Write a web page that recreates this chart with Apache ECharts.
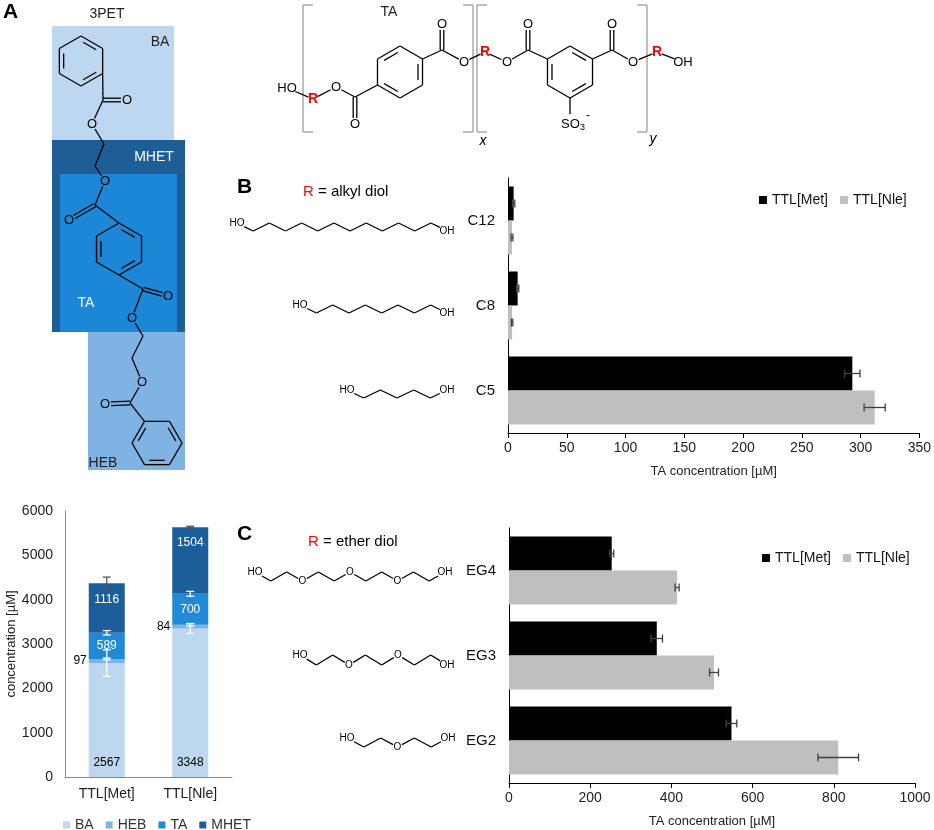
<!DOCTYPE html>
<html>
<head>
<meta charset="utf-8">
<title>TA release from 3PET and polyesters</title>
<script src="https://cdn.jsdelivr.net/npm/echarts@6/dist/echarts.min.js"></script>
<style>html,body{margin:0;padding:0;background:#fff;}</style>
</head>
<body>
<div id="chart" style="width:934px;height:830px;"></div>
<script>
// ---- data ----
var enzymes = ['TTL[Met]', 'TTL[Nle]'];
var products = ['BA', 'HEB', 'TA', 'MHET'];
var baVals = [2567, 3348];
var hebVals = [97, 84];
var taVals = [589, 700];
var mhetVals = [1116, 1504];
var baErr = [300, 110];
var hebErr = [20, 30];
var taErr = [50, 55];
var mhetErr = [140, 20];

var alkylDiols = ['C5', 'C8', 'C12'];
var alkylMet = [293, 8.2, 4.8];
var alkylMetErr = [6.5, 1, 1];
var alkylNle = [312, 3.5, 3.4];
var alkylNleErr = [9, 0.6, 0.8];

var etherDiols = ['EG2', 'EG3', 'EG4'];
var etherMet = [548, 364, 253];
var etherMetErr = [13, 14, 5];
var etherNle = [811, 505, 414];
var etherNleErr = [50, 11, 5];

var FONT = '"Liberation Sans", Arial, sans-serif';
var prodColors = ['#bdd7ee', '#7db2e2', '#1f8ad6', '#1b5e99'];

// ---- drawing helpers for the structures ----
var gfx = [];
function rect(x, y, w, h, c) {
    gfx.push({type: 'rect', z: 1, shape: {x: x, y: y, width: w, height: h}, style: {fill: c}});
}
function line(x1, y1, x2, y2, c, w) {
    gfx.push({type: 'line', z: 10, shape: {x1: x1, y1: y1, x2: x2, y2: y2},
        style: {stroke: c || '#000', lineWidth: w || 1.3}});
}
function txt(s, x, y, size, color, opt) {
    opt = opt || {};
    var al = opt.align || 'center';
    gfx.push({type: 'text', z: 12, x: x, y: y, style: {
        text: s, fill: color || '#000',
        font: (opt.bold ? 'bold ' : '') + (opt.italic ? 'italic ' : '') + size + 'px ' + FONT,
        textAlign: al, align: al, textVerticalAlign: 'middle', verticalAlign: 'middle'
    }});
}
// node = [x, y, label, shrink]
function bond(a, b, dbl) {
    var dx = b[0] - a[0], dy = b[1] - a[1], L = Math.sqrt(dx * dx + dy * dy);
    var ux = dx / L, uy = dy / L;
    var s1 = a[2] ? (a[3] || 6) : 0, s2 = b[2] ? (b[3] || 6) : 0;
    var x1 = a[0] + ux * s1, y1 = a[1] + uy * s1, x2 = b[0] - ux * s2, y2 = b[1] - uy * s2;
    if (!dbl) {
        line(x1, y1, x2, y2);
    } else {
        var nx = -uy * 1.8, ny = ux * 1.8;
        line(x1 + nx, y1 + ny, x2 + nx, y2 + ny);
        line(x1 - nx, y1 - ny, x2 - nx, y2 - ny);
    }
}
function atom(n, size, color) {
    txt(n[2], n[0], n[1], size || 13, color || '#000');
}
function hex(cx, cy, r, pointy, inner) {
    var v = [];
    for (var k = 0; k < 6; k++) {
        var a = ((pointy ? -90 : -120) + 60 * k) * Math.PI / 180;
        v.push([cx + r * Math.cos(a), cy + r * Math.sin(a)]);
    }
    for (k = 0; k < 6; k++) {
        var p = v[k], q = v[(k + 1) % 6];
        line(p[0], p[1], q[0], q[1]);
        if (inner.indexOf(k) >= 0) {
            var p1 = [p[0] + (cx - p[0]) * 0.2, p[1] + (cy - p[1]) * 0.2];
            var q1 = [q[0] + (cx - q[0]) * 0.2, q[1] + (cy - q[1]) * 0.2];
            var ex = (q1[0] - p1[0]) * 0.12, ey = (q1[1] - p1[1]) * 0.12;
            line(p1[0] + ex, p1[1] + ey, q1[0] - ex, q1[1] - ey);
        }
    }
    return v;
}
function chain(pts, size) {
    for (var i = 0; i < pts.length - 1; i++) bond(pts[i], pts[i + 1]);
    pts.forEach(function (p) { if (p[2]) txt(p[2], p[0], p[1], size, '#000'); });
}
function zigzag(x0, x1, yHi, yLo, n, labels, shrinkEnd) {
    var pts = [], step = (x1 - x0) / (n - 1);
    for (var i = 0; i < n; i++) {
        var lb = labels[i] || null;
        var sh = (i === 0 || i === n - 1) ? shrinkEnd : 5;
        pts.push([x0 + step * i, i % 2 === 0 ? yHi : yLo, lb, sh]);
    }
    return pts;
}

// ---- panel A : 3PET ----
rect(52, 26, 122, 114, '#bcd7ef');
rect(52, 140, 133, 192, '#1d5e96');
rect(60, 174, 117, 158, '#1b87d6');
rect(88, 332, 97, 138, '#7fb3e4');
txt('A', 3, 12, 21, '#000', {bold: true, align: 'left'});
txt('3PET', 107, 14, 14, '#222');
txt('BA', 160, 42, 14, '#222');
txt('MHET', 154, 157, 14, '#fff');
txt('TA', 86, 303, 14, '#fff');
txt('HEB', 103, 463, 14, '#222');

var r1 = hex(81, 61, 25, true, [0, 2, 4]);
var c1 = [103, 100], o1 = [127, 100, 'O'], oe1 = [92, 124, 'O'], c2 = [104, 144], c3 = [95, 166];
var oe2 = [105, 181, 'O'], c4 = [95, 205], o4 = [69, 220, 'O'];
var r2 = hex(119, 249, 26, true, [0, 2, 4]);
var c5 = [143, 289], o5 = [168, 296, 'O'], oe3 = [132, 318, 'O'], c6 = [143, 336], c7 = [132, 358];
var oe4 = [142, 382, 'O'], c8 = [130, 403], o8 = [105, 404, 'O'];
var r3 = hex(157, 443, 25, false, [1, 3, 5]);
bond(r1[2], c1); bond(c1, o1, true); bond(c1, oe1); bond(oe1, c2); bond(c2, c3); bond(c3, oe2);
bond(oe2, c4); bond(c4, o4, true); bond(c4, r2[0]); bond(r2[3], c5); bond(c5, o5, true);
bond(c5, oe3); bond(oe3, c6); bond(c6, c7); bond(c7, oe4); bond(oe4, c8); bond(c8, o8, true);
bond(c8, r3[0]);
[o1, oe1, oe2, o4, o5, oe3, oe4, o8].forEach(function (n) { atom(n, 13); });

// ---- polyester repeat unit ----
var gray = '#aaaaaa';
function bracket(x, y1, y2, dir) {
    line(x, y1, x, y2, gray, 1.5);
    line(x, y1, x + dir * 10, y1, gray, 1.5);
    line(x, y2, x + dir * 10, y2, gray, 1.5);
}
bracket(303, 5, 132, 1);
bracket(473, 5, 132, -1);
bracket(477, 5, 132, 1);
bracket(647, 5, 132, -1);
txt('x', 483, 141, 14, '#000', {italic: true});
txt('y', 653, 139, 14, '#000', {italic: true});
txt('TA', 389, 12, 14, '#222');

var ho = [287, 88, 'HO', 9], rA = [313, 99, 'R', 5], oA = [336, 87, 'O'], cA = [355, 97], oA2 = [355, 124, 'O'];
var ra = hex(400, 72, 26, true, [1, 3, 5]);
var cB = [442, 50], oB2 = [442, 24, 'O'], oB = [464, 62, 'O'], rB = [485, 52, 'R', 5], oC = [507, 62, 'O'];
var cC = [528, 50], oC2 = [528, 24, 'O'];
var rb = hex(570, 72, 26, true, [0, 2, 4]);
var cD = [612, 50], oD2 = [612, 24, 'O'], oD = [633, 62, 'O'], rC = [657, 52, 'R', 5], oh = [683, 62, 'OH', 9];
var so3 = [570, 121, 'S', 7];
bond(ho, rA); bond(rA, oA); bond(oA, cA); bond(cA, oA2, true); bond(cA, ra[4]);
bond(ra[1], cB); bond(cB, oB2, true); bond(cB, oB); bond(oB, rB); bond(rB, oC); bond(oC, cC);
bond(cC, oC2, true); bond(cC, rb[5]); bond(rb[1], cD); bond(cD, oD2, true); bond(cD, oD);
bond(oD, rC); bond(rC, oh); bond(rb[3], so3);
[ho, oA, oA2, oB2, oB, oC, oC2, oD2, oD, oh].forEach(function (n) { atom(n, 13); });
[rA, rB, rC].forEach(function (n) { txt('R', n[0], n[1], 14, '#ff0000', {bold: true}); });
txt('SO', 561, 124, 13, '#000', {align: 'left'});
txt('3', 580, 128, 9, '#000', {align: 'left'});
txt('-', 586, 116, 12, '#000', {align: 'left'});

// ---- panel B / C headings and diol structures ----
txt('B', 237, 187, 21, '#000', {bold: true, align: 'left'});
txt('R', 303, 192, 15, '#ff0000', {align: 'left'});
txt('= alkyl diol', 318, 192, 15, '#000', {align: 'left'});
txt('C', 237, 534, 21, '#000', {bold: true, align: 'left'});
txt('R', 308, 542, 15, '#ff0000', {align: 'left'});
txt('= ether diol', 323, 542, 15, '#000', {align: 'left'});

chain(zigzag(237, 447, 223, 231, 14, {0: 'HO', 13: 'OH'}, 8), 10);
chain(zigzag(300, 447, 305, 313, 10, {0: 'HO', 9: 'OH'}, 8), 10);
chain(zigzag(347, 447, 390, 398, 7, {0: 'HO', 6: 'OH'}, 8), 10);
chain(zigzag(255, 445, 572, 581, 13, {0: 'HO', 3: 'O', 6: 'O', 9: 'O', 12: 'OH'}, 8), 10);
chain(zigzag(300, 447, 655, 665, 10, {0: 'HO', 3: 'O', 6: 'O', 9: 'OH'}, 8), 10);
chain(zigzag(347, 448, 738, 747, 7, {0: 'HO', 3: 'O', 6: 'OH'}, 8), 10);

// ---- error bars ----
var stackErr = [];
enzymes.forEach(function (e, i) {
    var t1 = baVals[i], t2 = t1 + hebVals[i], t3 = t2 + taVals[i], t4 = t3 + mhetVals[i];
    stackErr.push([i, t1, baErr[i], 0], [i, t2, hebErr[i], 0], [i, t3, taErr[i], 0], [i, t4, mhetErr[i], 1]);
});
function errGroup(pts, col) {
    return {type: 'group', children: pts.map(function (s) {
        return {type: 'line', shape: {x1: s[0], y1: s[1], x2: s[2], y2: s[3]}, style: {stroke: col, lineWidth: 1.3}};
    })};
}
function stackErrItem(params, api) {
    var c = api.coord([api.value(0), api.value(1)]);
    var e = api.size([0, api.value(2)])[1];
    var col = api.value(3) ? '#555' : '#fff';
    var hw = 4;
    return errGroup([[c[0], c[1] - e, c[0], c[1] + e], [c[0] - hw, c[1] - e, c[0] + hw, c[1] - e],
        [c[0] - hw, c[1] + e, c[0] + hw, c[1] + e]], col);
}
function hErrItem(params, api) {
    var c = api.coord([api.value(0), api.value(1)]);
    var band = api.size([0, 1])[1];
    var w = band * 0.4;
    var y = c[1] + (api.value(3) === 0 ? -w / 2 : w / 2);
    var e = api.size([api.value(2), 0])[0];
    var hh = 4;
    return errGroup([[c[0] - e, y, c[0] + e, y], [c[0] - e, y - hh, c[0] - e, y + hh],
        [c[0] + e, y - hh, c[0] + e, y + hh]], '#404040');
}
function hErrData(met, metErr, nle, nleErr) {
    var d = [];
    met.forEach(function (v, i) {
        d.push([v, i, metErr[i], 0]);
        d.push([nle[i], i, nleErr[i], 1]);
    });
    return d;
}

// ---- axes ----
function plain(v) { return String(v); }
function valAxisH(grid, max, interval) {
    return {
        type: 'value', gridIndex: grid, min: 0, max: max, interval: interval,
        axisLine: {show: true, lineStyle: {color: '#000'}},
        axisTick: {show: true, length: 5, lineStyle: {color: '#000'}},
        axisLabel: {fontSize: 14, color: '#222', margin: 8, fontFamily: FONT, formatter: plain},
        splitLine: {show: false},
        name: 'TA concentration [µM]', nameLocation: 'middle', nameGap: 32,
        nameTextStyle: {fontSize: 13, color: '#222', fontFamily: FONT}
    };
}
function catAxisV(grid, cats) {
    return {
        type: 'category', gridIndex: grid, data: cats,
        axisLine: {show: true, lineStyle: {color: '#000'}},
        axisTick: {show: false},
        axisLabel: {fontSize: 15, color: '#111', margin: 13, fontFamily: FONT}
    };
}
function segLabel(pos, col, dist) {
    return {show: true, position: pos, color: col, fontSize: 12, distance: dist, fontFamily: FONT};
}

var option = {
    animation: false,
    textStyle: {fontFamily: FONT},
    graphic: {elements: gfx},
    grid: [
        {left: 65, top: 511, width: 167, height: 266},
        {left: 508, top: 178, width: 412, height: 255},
        {left: 509, top: 528, width: 406, height: 255}
    ],
    legend: [
        {data: products, left: 58, top: 813, icon: 'rect', itemWidth: 7, itemHeight: 7, itemGap: 12,
            textStyle: {fontSize: 14, color: '#333'}},
        {data: ['TTL[Met]', 'TTL[Nle]'], left: 754, top: 188, icon: 'rect', itemWidth: 8, itemHeight: 8,
            itemGap: 12, textStyle: {fontSize: 14, color: '#111'}},
        {data: ['TTL[Met]', 'TTL[Nle]'], left: 757, top: 546, icon: 'rect', itemWidth: 8, itemHeight: 8,
            itemGap: 12, textStyle: {fontSize: 14, color: '#111'}}
    ],
    xAxis: [
        {type: 'category', gridIndex: 0, data: enzymes,
            axisLine: {show: true, lineStyle: {color: '#888'}}, axisTick: {show: false},
            axisLabel: {fontSize: 14, color: '#222', margin: 10}},
        valAxisH(1, 350, 50),
        valAxisH(2, 1000, 200)
    ],
    yAxis: [
        {type: 'value', gridIndex: 0, min: 0, max: 6000, interval: 1000,
            axisLine: {show: true, lineStyle: {color: '#888'}}, axisTick: {show: false},
            axisLabel: {fontSize: 14, color: '#222', margin: 12, formatter: plain}, splitLine: {show: false},
            name: 'concentration [µM]', nameLocation: 'middle', nameGap: 45,
            nameTextStyle: {fontSize: 13, color: '#222'}},
        catAxisV(1, alkylDiols),
        catAxisV(2, etherDiols)
    ],
    series: [
        {name: 'BA', type: 'bar', stack: 'p', xAxisIndex: 0, yAxisIndex: 0, barWidth: 36, data: baVals,
            itemStyle: {color: prodColors[0]}, label: segLabel('insideBottom', '#000', 8)},
        {name: 'HEB', type: 'bar', stack: 'p', xAxisIndex: 0, yAxisIndex: 0, barWidth: 36, data: hebVals,
            itemStyle: {color: prodColors[1]}, label: segLabel('left', '#000', 2)},
        {name: 'TA', type: 'bar', stack: 'p', xAxisIndex: 0, yAxisIndex: 0, barWidth: 36, data: taVals,
            itemStyle: {color: prodColors[2]}, label: segLabel('inside', '#fff', 5)},
        {name: 'MHET', type: 'bar', stack: 'p', xAxisIndex: 0, yAxisIndex: 0, barWidth: 36, data: mhetVals,
            itemStyle: {color: prodColors[3]}, label: segLabel('insideTop', '#fff', 10)},
        {type: 'custom', xAxisIndex: 0, yAxisIndex: 0, data: stackErr, renderItem: stackErrItem, z: 5},

        {name: 'TTL[Met]', type: 'bar', xAxisIndex: 1, yAxisIndex: 1, data: alkylMet,
            barCategoryGap: '20%', barGap: '0%', itemStyle: {color: '#000'}},
        {name: 'TTL[Nle]', type: 'bar', xAxisIndex: 1, yAxisIndex: 1, data: alkylNle,
            barCategoryGap: '20%', barGap: '0%', itemStyle: {color: '#bfbfbf'}},
        {type: 'custom', xAxisIndex: 1, yAxisIndex: 1, renderItem: hErrItem, z: 5,
            data: hErrData(alkylMet, alkylMetErr, alkylNle, alkylNleErr)},

        {name: 'TTL[Met]', type: 'bar', xAxisIndex: 2, yAxisIndex: 2, data: etherMet,
            barCategoryGap: '20%', barGap: '0%', itemStyle: {color: '#000'}},
        {name: 'TTL[Nle]', type: 'bar', xAxisIndex: 2, yAxisIndex: 2, data: etherNle,
            barCategoryGap: '20%', barGap: '0%', itemStyle: {color: '#bfbfbf'}},
        {type: 'custom', xAxisIndex: 2, yAxisIndex: 2, renderItem: hErrItem, z: 5,
            data: hErrData(etherMet, etherMetErr, etherNle, etherNleErr)}
    ]
};

var chart = echarts.init(document.getElementById('chart'));
chart.setOption(option);
</script>
</body>
</html>
